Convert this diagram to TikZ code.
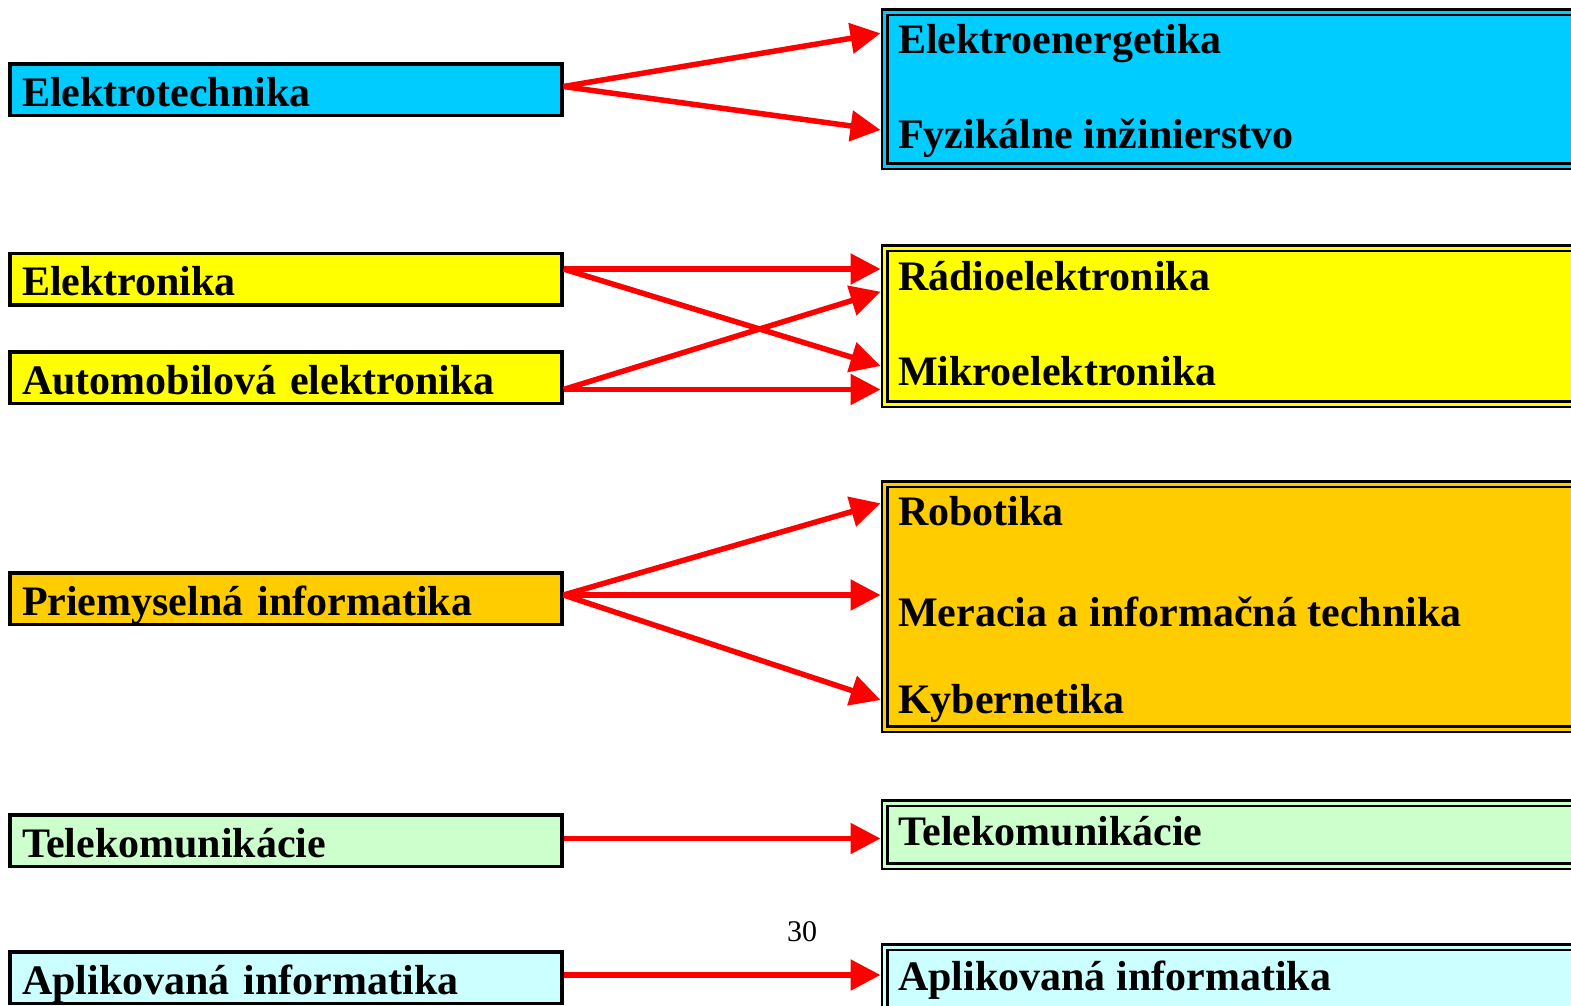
\documentclass[tikz,border=0pt]{standalone}
\usepackage{fontspec}
\setmainfont{Liberation Serif}
\usetikzlibrary{arrows.meta}
\definecolor{eblue}{HTML}{00CCFF}
\definecolor{eyellow}{HTML}{FFFF00}
\definecolor{eorange}{HTML}{FFCC00}
\definecolor{egreen}{HTML}{CCFFCC}
\definecolor{ecyan}{HTML}{CCFFFF}
\tikzset{lbox/.style={draw=black, line width=3.5pt, outer sep=1.75pt, anchor=north west,
    minimum width=552pt, minimum height=51.5pt, inner xsep=12.25pt, inner ysep=0pt,
    text width=527.5pt, align=left, text height=38pt, text depth=5pt,
    font=\fontsize{42}{42}\selectfont\bfseries}}
\tikzset{rbox/.style={draw=black, line width=2.5pt, double distance=3pt, outer sep=4pt,
    anchor=north west, minimum width=715.5pt, inner sep=0pt}}
\tikzset{rt/.style={anchor=base west, inner sep=0pt, font=\fontsize{42}{42}\selectfont\bfseries}}
\tikzset{arr/.style={draw=red, line width=5.5pt, -{Triangle[length=30pt,width=30pt]}}}

\begin{document}
\begin{tikzpicture}[x=1pt, y=-1pt]
  \useasboundingbox (0,0) rectangle (1571,1005);
  % left column
  \node[lbox, fill=eblue] (lEtech) at (8,62) {Elektrotechnika};
  \node[lbox, fill=eyellow] (lElek) at (8,251.5) {Elektronika};
  \node[lbox, fill=eyellow] (lAuto) at (8,350) {Automobilová elektronika};
  \node[lbox, fill=eorange] (lPriem) at (8,571) {Priemyselná informatika};
  \node[lbox, fill=egreen] (lTelek) at (8,813) {Telekomunikácie};
  \node[lbox, fill=ecyan] (lAplik) at (8,950) {Aplikovaná informatika};
  % right column
  \node[rbox, fill=eblue, double=eblue, minimum height=154pt] (rBlue) at (880.5,8) {};
  \node[rt] (rEnerg) at (898,53.3) {Elektroenergetika};
  \node[rt] (rFyz) at (898,148.3) {Fyzikálne inžinierstvo};
  \node[rbox, fill=eyellow, double=eyellow, minimum height=156pt] (rYellow) at (880.5,244) {};
  \node[rt] (rRadio) at (898,290) {Rádioelektronika};
  \node[rt] (rMikro) at (898,385) {Mikroelektronika};
  \node[rbox, fill=eorange, double=eorange, minimum height=245pt] (rOrange) at (880.5,480) {};
  \node[rt] (rRobot) at (898,525) {Robotika};
  \node[rt] (rMerac) at (898,626.7) {Meracia a informačná technika};
  \node[rt] (rKyber) at (898,713.3) {Kybernetika};
  \node[rbox, fill=egreen, double=egreen, minimum height=63pt] (rGreen) at (880.5,799) {};
  \node[rt] (rTelek) at (898,845) {Telekomunikácie};
  \node[rbox, fill=ecyan, double=ecyan, minimum height=100pt] (rCyan) at (880.5,943) {};
  \node[rt] (rAplik) at (898,990) {Aplikovaná informatika};
  % page number
  \node[anchor=base, inner sep=0pt, font=\fontsize{30}{30}\selectfont] (page) at (802,941.7) {30};
  % arrows
  \draw[arr] ([yshift=3pt]lEtech.east) -- ([yshift=-25.3pt]rBlue.north west);
  \draw[arr] ([yshift=3pt]lEtech.east) -- ([yshift=-122pt]rBlue.north west);
  \draw[arr] ([yshift=10pt]lElek.east) -- ([yshift=10pt]lElek.east -| rYellow.west);
  \draw[arr] ([yshift=10pt]lElek.east) -- ([yshift=-122pt]rYellow.north west);
  \draw[arr] ([yshift=-12pt]lAuto.east) -- ([yshift=-47.7pt]rYellow.north west);
  \draw[arr] ([yshift=-12pt]lAuto.east) -- ([yshift=-12pt]lAuto.east -| rYellow.west);
  \draw[arr] ([yshift=3.5pt]lPriem.east) -- ([yshift=-23.3pt]rOrange.north west);
  \draw[arr] ([yshift=3.5pt]lPriem.east) -- ([yshift=3.5pt]lPriem.east -| rOrange.west);
  \draw[arr] ([yshift=3.5pt]lPriem.east) -- ([yshift=-220pt]rOrange.north west);
  \draw[arr] ([yshift=2pt]lTelek.east) -- ([yshift=2pt]lTelek.east -| rGreen.west);
  \draw[arr] ([yshift=2.5pt]lAplik.east) -- ([yshift=2.5pt]lAplik.east -| rCyan.west);
\end{tikzpicture}
\end{document}
